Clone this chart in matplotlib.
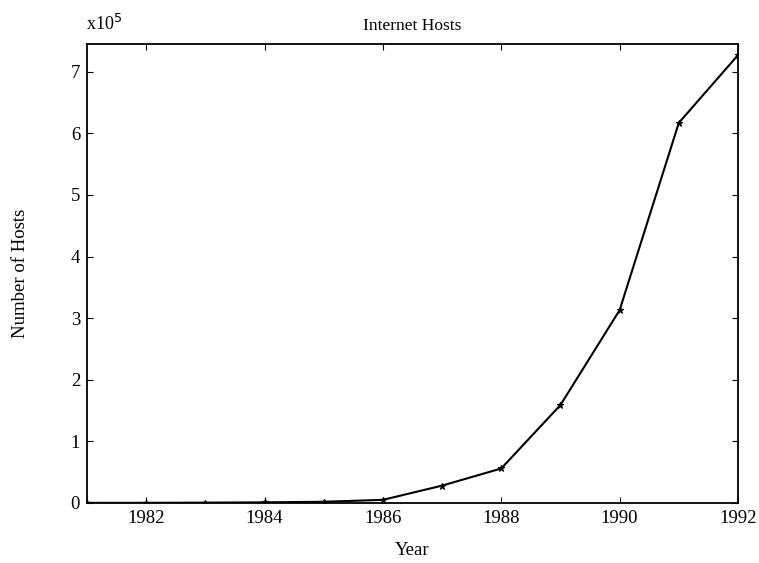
import matplotlib
matplotlib.use('Agg')
import matplotlib.pyplot as plt

# Internet host counts by year
years = [1981, 1982, 1983, 1984, 1985, 1986, 1987, 1988, 1989, 1990, 1991, 1992]
hosts = [213, 235, 562, 1024, 1961, 5089, 28174, 56000, 159000, 313000, 617000, 727000]

x_ticks = [1982, 1984, 1986, 1988, 1990, 1992]
y_ticks = [0, 1, 2, 3, 4, 5, 6, 7]
scale = 1e5

plt.rcParams['font.family'] = ['Liberation Serif', 'DejaVu Serif']

fig = plt.figure(figsize=(7.59, 5.63), dpi=100)
ax = fig.add_axes([0.1146, 0.1066, 0.8577, 0.8152])

ax.plot(years, [h / scale for h in hosts], color='black', linewidth=1.5,
        marker='*', markersize=5, markeredgewidth=0.8)

ax.set_xlim(1981, 1992)
ax.set_ylim(0, 7.45)
ax.set_xticks(x_ticks)
ax.set_yticks(y_ticks)
ax.tick_params(direction='in', top=True, right=True, length=4, width=0.8,
               labelsize=13.5, pad=5)
for s in ax.spines.values():
    s.set_linewidth(1.3)

ax.set_title("Internet Hosts", fontsize=12.5, pad=10)
ax.set_xlabel("Year", fontsize=13.5, labelpad=11)
ax.set_ylabel("Number of Hosts", fontsize=13.5, labelpad=30)
fig.text(0.113, 0.9467, r"x10$^5$", fontsize=13, ha='left', va='baseline')

plt.savefig("out.png", dpi=100)
